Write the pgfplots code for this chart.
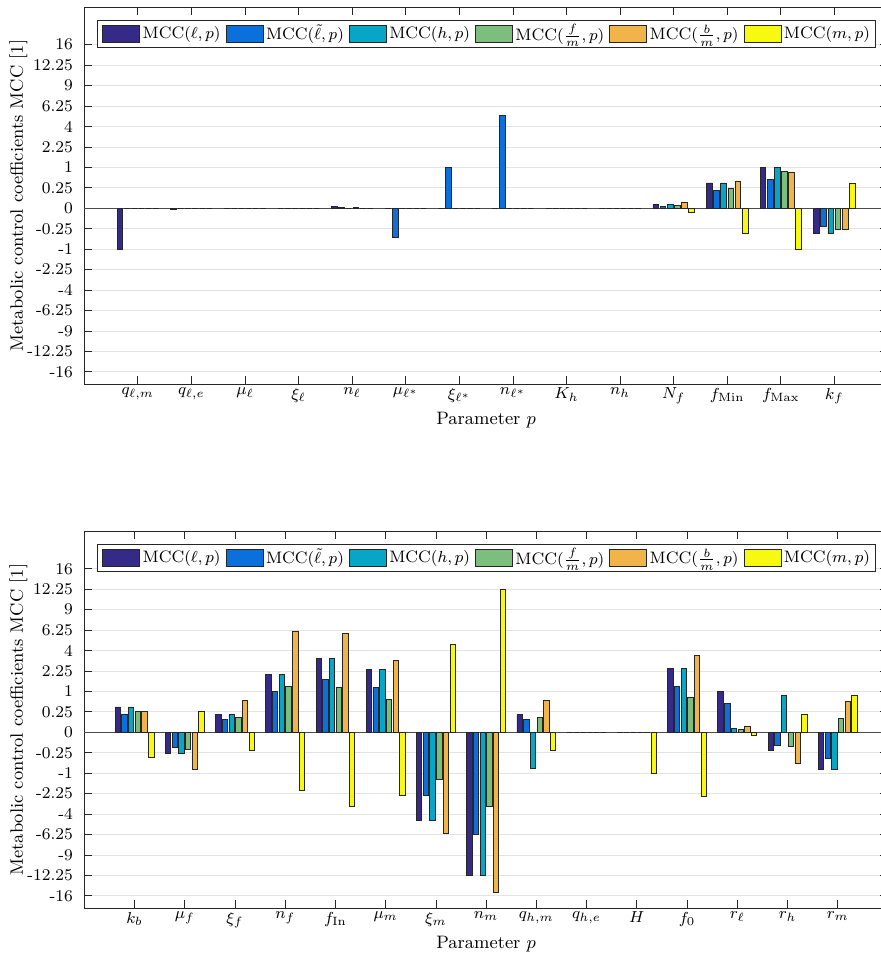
\documentclass[border=0pt]{standalone}
\usepackage{pgfplots}
\usepackage{pgfplotstable}
\pgfplotsset{compat=1.18}

\definecolor{c1}{HTML}{352A87}
\definecolor{c2}{HTML}{0B6FDC}
\definecolor{c3}{HTML}{07A6C6}
\definecolor{c4}{HTML}{7CBE7B}
\definecolor{c5}{HTML}{F1B44A}
\definecolor{c6}{HTML}{F8F910}

% columns: x, l, lt, h, fm, bm, m  (MCC values)
\pgfplotstableread{
x  l       lt      h       fm      bm      m
1  -1.0    0       0       0       0       0
2  -0.001  0       0       0       0       0
3  0       0       0       0       0       0
4  0       0       0       0       0       0
5  0.002   0.0005  0       0.0005  0       0
6  0       -0.50   0       0       0       0
7  0       1.0     0       0       0       0
8  0       5.13    0       0       0       0
9  0       0       0       0       0       0
10 0       0       0       0       0       0
11 0.008   0.003   0.008   0.005   0.022   -0.010
12 0.383   0.194   0.383   0.246   0.445   -0.386
13 1.0     0.513   1.0     0.817   0.789   -1.0
14 -0.386  -0.194  -0.386  -0.273  -0.270  0.373
}\topdata

\pgfplotstableread{
x  l       lt      h       fm      bm      m
1  0.383   0.187   0.383   0.270   0.270   -0.385
2  -0.273  -0.140  -0.273  -0.173  -0.819  0.270
3  0.194   0.101   0.198   0.129   0.600   -0.194
4  2.01    1.00    2.01    1.28    6.10    -2.01
5  3.25    1.66    3.25    1.23    5.86    -3.25
6  2.37    1.21    2.37    0.651   3.12    -2.35
7  -4.66   -2.35   -4.66   -1.30   -6.10   4.63
8  -12.17  -6.18   -12.17  -3.27   -15.4   12.28
9  0.200   0.096   -0.800  0.129   0.600   -0.194
10 0       0       0       0       0       0
11 0       0       0       0       0       -1.0
12 2.45    1.25    2.45    0.746   3.52    -2.45
13 1.0     0.503   0.008   0.004   0.024   -0.0066
14 -0.194  -0.101  0.805   -0.122  -0.586  0.200
15 -0.805  -0.414  -0.805  0.122   0.575   0.805
}\botdata

\pgfplotsset{
  barsty/.style={draw=black!85, line width=0.4pt, bar width=0.1067,
    legend image code/.code={\draw[##1,/tikz/.cd] (0pt,-4.1pt) rectangle (18.5pt,4.1pt);}},
  mcc/.style={
    scale only axis, width=401.85pt, height=188.35pt, anchor=south west,
    ybar,
    y coord trafo/.code={\pgfmathparse{(##1<0?-1:1)*sqrt(abs(##1))}},
    ymin=-18.455, ymax=24.16,
    ytick={-16,-12.25,-9,-6.25,-4,-2.25,-1,-0.25,0,0.25,1,2.25,4,6.25,9,12.25,16},
    yticklabels={-16,-12.25,-9,-6.25,-4,-2.25,-1,-0.25,0,0.25,1,2.25,4,6.25,9,12.25,16},
    ymajorgrids,
    major grid style={gray!22, line width=0.4pt},
    extra y ticks={0}, extra y tick labels={},
    extra y tick style={major grid style={black!70, line width=0.45pt}, major tick length=0pt},
    axis line style={black!85, line width=0.4pt},
    every tick/.style={black!85, line width=0.4pt},
    tick align=inside, major tick length=4pt,
    ticklabel style={font=\fontsize{8.2}{9}\selectfont},
    yticklabel style={xshift=-2.2pt},
    xticklabel style={yshift=1.5pt},
    label style={font=\fontsize{9}{10}\selectfont},
    xlabel={Parameter $p$},
    xlabel style={at={(rel axis cs:0.5,0)}, anchor=base, yshift=-20.4pt},
    ylabel={Metabolic control coefficients MCC [1]},
    ylabel style={at={(rel axis cs:-0.0821,0.5)}, anchor=center},
    xtick=data,
    legend columns=6,
    legend style={at={(0.5,0.9663)}, anchor=north, draw=black!85, line width=0.4pt,
      fill=white, font=\fontsize{8.3}{10}\selectfont,
      inner xsep=2.5pt, inner ysep=1.2pt,
      nodes={inner xsep=0pt, inner ysep=0.8pt},
      /tikz/every odd column/.append style={column sep=1.3pt},
      /tikz/every even column/.append style={column sep=2.5pt}},
  },
}

\begin{document}
\begin{tikzpicture}
\begin{axis}[mcc, at={(42.15pt,287.5pt)}, xmin=0, xmax=15,
  xticklabels={{$q_{\ell,m}$},{$q_{\ell,e}$},{$\mu_\ell$},{$\xi_\ell$},{$n_\ell$},{$\mu_{\ell^*}$},{$\xi_{\ell^*}$},{$n_{\ell^*}$},{$K_h$},{$n_h$},{$N_f$},{$f_{\mathrm{Min}}$},{$f_{\mathrm{Max}}$},{$k_f$}}]
\addplot[barsty, fill=c1, bar shift=-0.3333] table[x=x,y=l]  {\topdata};
\addplot[barsty, fill=c2, bar shift=-0.2]    table[x=x,y=lt] {\topdata};
\addplot[barsty, fill=c3, bar shift=-0.0667] table[x=x,y=h]  {\topdata};
\addplot[barsty, fill=c4, bar shift=0.0667]  table[x=x,y=fm] {\topdata};
\addplot[barsty, fill=c5, bar shift=0.2]     table[x=x,y=bm] {\topdata};
\addplot[barsty, fill=c6, bar shift=0.3333]  table[x=x,y=m]  {\topdata};
\legend{{MCC$(\ell,p)$}, {MCC$(\tilde{\ell},p)$}, {MCC$(h,p)$}, {MCC$(\frac{f}{m},p)$}, {MCC$(\frac{b}{m},p)$}, {MCC$(m,p)$}}
\end{axis}

\begin{axis}[mcc, at={(42.15pt,25.5pt)}, xmin=0, xmax=16,
  xticklabels={{$k_b$},{$\mu_f$},{$\xi_f$},{$n_f$},{$f_{\mathrm{In}}$},{$\mu_m$},{$\xi_m$},{$n_m$},{$q_{h,m}$},{$q_{h,e}$},{$H$},{$f_0$},{$r_\ell$},{$r_h$},{$r_m$}}]
\addplot[barsty, fill=c1, bar shift=-0.3333] table[x=x,y=l]  {\botdata};
\addplot[barsty, fill=c2, bar shift=-0.2]    table[x=x,y=lt] {\botdata};
\addplot[barsty, fill=c3, bar shift=-0.0667] table[x=x,y=h]  {\botdata};
\addplot[barsty, fill=c4, bar shift=0.0667]  table[x=x,y=fm] {\botdata};
\addplot[barsty, fill=c5, bar shift=0.2]     table[x=x,y=bm] {\botdata};
\addplot[barsty, fill=c6, bar shift=0.3333]  table[x=x,y=m]  {\botdata};
\legend{{MCC$(\ell,p)$}, {MCC$(\tilde{\ell},p)$}, {MCC$(h,p)$}, {MCC$(\frac{f}{m},p)$}, {MCC$(\frac{b}{m},p)$}, {MCC$(m,p)$}}
\end{axis}
\pgfresetboundingbox
\path[use as bounding box] (0,0) rectangle (440pt,479.5pt);
\end{tikzpicture}
\end{document}
